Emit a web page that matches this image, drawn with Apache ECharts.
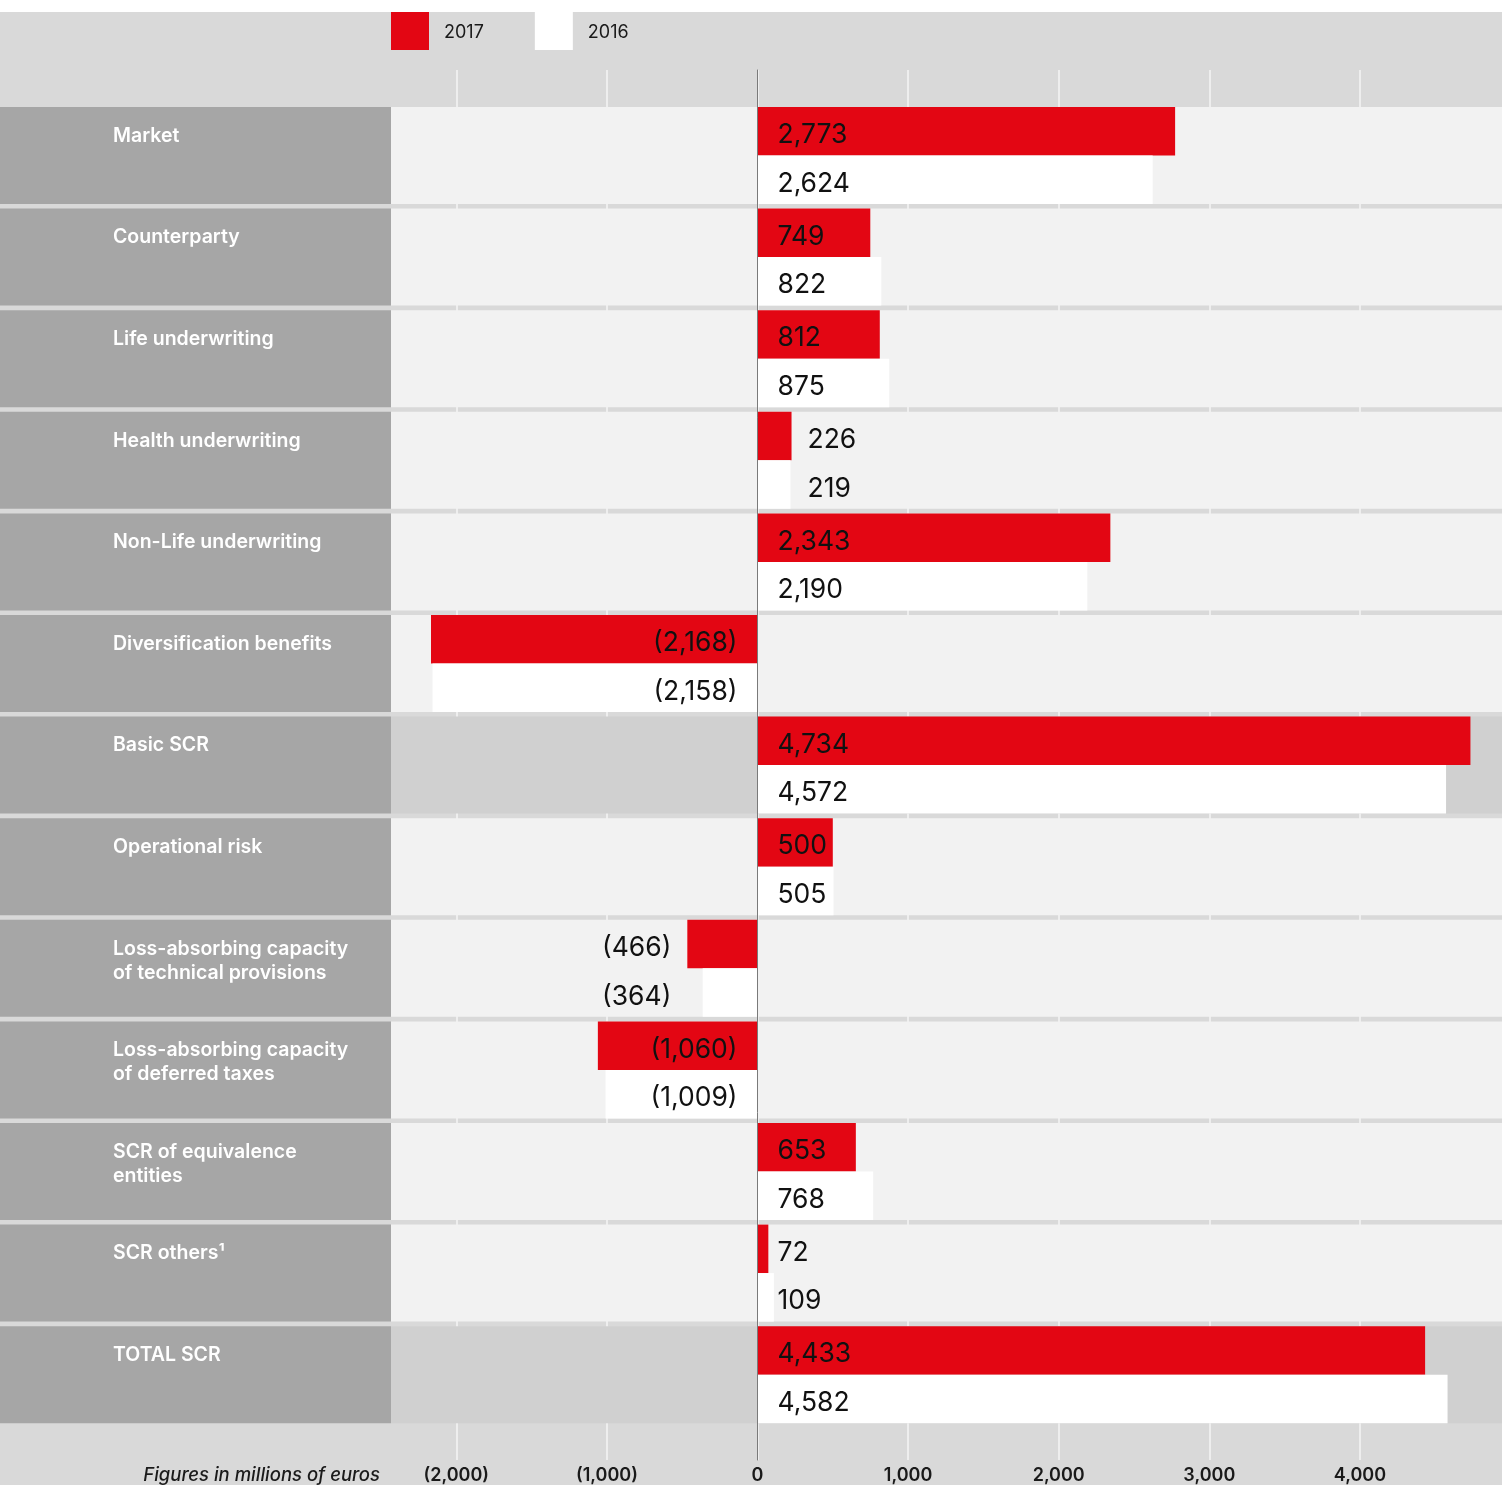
<!DOCTYPE html>
<html>
<head>
<meta charset="utf-8">
<script src="https://cdn.jsdelivr.net/npm/echarts@6/dist/echarts.min.js"></script>
<style>
  html, body { margin: 0; padding: 0; background: #ffffff; }
  #chart { width: 1502px; height: 1485px; }
</style>
</head>
<body>
<div id="chart"></div>
<script>
// SCR breakdown, figures in millions of euros
const categories = [
  'Market',
  'Counterparty',
  'Life underwriting',
  'Health underwriting',
  'Non-Life underwriting',
  'Diversification benefits',
  'Basic SCR',
  'Operational risk',
  'Loss-absorbing capacity\nof technical provisions',
  'Loss-absorbing capacity\nof deferred taxes',
  'SCR of equivalence\nentities',
  'SCR others\u00b9',
  'TOTAL SCR'
];
const values2017 = [2773, 749, 812, 226, 2343, -2168, 4734, 500, -466, -1060, 653, 72, 4433];
const values2016 = [2624, 822, 875, 219, 2190, -2158, 4572, 505, -364, -1009, 768, 109, 4582];
const seriesNames = ['2017', '2016'];
const subtotalRows = ['Basic SCR', 'TOTAL SCR'];
const outsideLabelRows = ['Health underwriting', 'Loss-absorbing capacity\nof technical provisions'];
const axisMin = -2000, axisMax = 5000, axisStep = 1000;

// layout
const W = 1502, H = 1485;
const PX = 0.1506;            // pixels per million
const ZERO_X = 757.5;
const PANEL_W = 391;
const ROW_TOP = 107, PITCH = 101.6, SEP = 4.6;
const BAR_MIN = -2500;
const FONT = 'Inter, "Noto Sans", sans-serif';
const RED = '#e30613';

const fmt = v => v < 0 ? '(' + (-v).toLocaleString('en-US') + ')' : v.toLocaleString('en-US');

function barData(vals) {
  return vals.map((v, i) => {
    const neg = v < 0;
    const item = { value: v };
    if (outsideLabelRows.includes(categories[i])) {
      const maxAbs = Math.max(Math.abs(values2017[i]), Math.abs(values2016[i]));
      item.label = { position: neg ? 'left' : 'right', distance: 16 + (maxAbs - Math.abs(v)) * PX };
    } else {
      item.label = { position: neg ? 'insideRight' : 'insideLeft', distance: 20 };
    }
    return item;
  });
}

const chart = echarts.init(document.getElementById('chart'), null, { renderer: 'canvas' });

const barLabel = {
  show: true,
  formatter: p => fmt(p.value),
  color: '#111111',
  fontSize: 26.5,
  fontFamily: FONT,
  fontWeight: 400,
  offset: [0, 4]
};

chart.setOption({
  animation: false,
  backgroundColor: '#d9d9d9',
  textStyle: { fontFamily: FONT },
  legend: {
    data: seriesNames,
    left: PANEL_W,
    top: 12,
    itemWidth: 38,
    itemHeight: 38,
    itemGap: 51,
    icon: 'rect',
    padding: 0,
    selectedMode: false,
    textStyle: { fontSize: 18, color: '#1a1a1a', fontFamily: FONT, padding: [0, 0, 0, 10],
                 rich: { y: { fontSize: 18, color: '#1a1a1a', fontFamily: FONT, padding: [4, 0, 0, 0] } } },
    formatter: name => '{y|' + name + '}'
  },
  graphic: [
    { type: 'rect', left: 0, top: 0, shape: { width: W, height: 12 }, style: { fill: '#ffffff' }, silent: true },
    {
      type: 'text', x: 380, y: 1475, silent: true,
      style: { text: 'Figures in millions of euros', align: 'right', verticalAlign: 'middle',
               font: 'italic 500 18.5px ' + FONT, fill: '#1a1a1a' }
    }
  ],
  grid: [
    { left: ZERO_X + BAR_MIN * PX, width: (axisMax - BAR_MIN) * PX, top: ROW_TOP - SEP / 2,
      height: PITCH * categories.length, outerBoundsMode: 'none', containLabel: false },
    { left: ZERO_X + axisMin * PX, width: (axisMax - axisMin) * PX, top: 70, height: 1390,
      outerBoundsMode: 'none', containLabel: false }
  ],
  xAxis: [
    { type: 'value', gridIndex: 0, min: BAR_MIN, max: axisMax, show: false },
    {
      type: 'value', gridIndex: 1, min: axisMin, max: axisMax, interval: axisStep,
      axisLine: { show: false }, axisTick: { show: false },
      splitLine: { show: true, lineStyle: { color: '#f5f5f5', width: 1.5 } },
      axisLabel: {
        margin: 7, fontSize: 18, fontWeight: 600, color: '#1a1a1a', fontFamily: FONT,
        formatter: v => (v > 4000 ? '' : fmt(v))
      }
    }
  ],
  yAxis: [
    { type: 'category', gridIndex: 0, data: categories, inverse: true, show: false },
    {
      type: 'value', gridIndex: 1, min: 0, max: 1, z: 10,
      axisLine: { show: true, onZero: true, lineStyle: { color: '#7a7a7a', width: 1 } },
      axisTick: { show: false }, axisLabel: { show: false }, splitLine: { show: false }
    }
  ],
  series: [
    {
      // row bands with their category labels
      type: 'custom',
      xAxisIndex: 0, yAxisIndex: 0,
      silent: true,
      z: 1,
      encode: { x: 0, y: 1 },
      data: categories.map((c, i) => [0, i]),
      renderItem: (params, api) => {
        const idx = api.value(1);
        const cy = api.coord([0, idx])[1];
        const h = api.size([0, 1])[1] - SEP;
        const top = cy - h / 2;
        const name = categories[idx];
        return {
          type: 'group',
          children: [
            { type: 'rect', shape: { x: 0, y: top, width: PANEL_W, height: h }, style: { fill: '#a6a6a6' } },
            { type: 'rect', shape: { x: PANEL_W, y: top, width: W - PANEL_W, height: h },
              style: { fill: subtotalRows.includes(name) ? '#d0d0d0' : '#f2f2f2' } },
            { type: 'text', x: 113, y: top + 17,
              style: { text: name, fill: '#ffffff', font: '600 19.5px ' + FONT, lineHeight: 24, verticalAlign: 'top' } }
          ]
        };
      }
    },
    {
      name: seriesNames[0], type: 'bar', xAxisIndex: 0, yAxisIndex: 0,
      barWidth: 48.5, barGap: '0%', z: 2,
      itemStyle: { color: RED },
      label: barLabel,
      data: barData(values2017)
    },
    {
      name: seriesNames[1], type: 'bar', xAxisIndex: 0, yAxisIndex: 0,
      barWidth: 48.5, barGap: '0%', z: 2,
      itemStyle: { color: '#ffffff' },
      label: barLabel,
      data: barData(values2016)
    }
  ]
});
</script>
</body>
</html>
